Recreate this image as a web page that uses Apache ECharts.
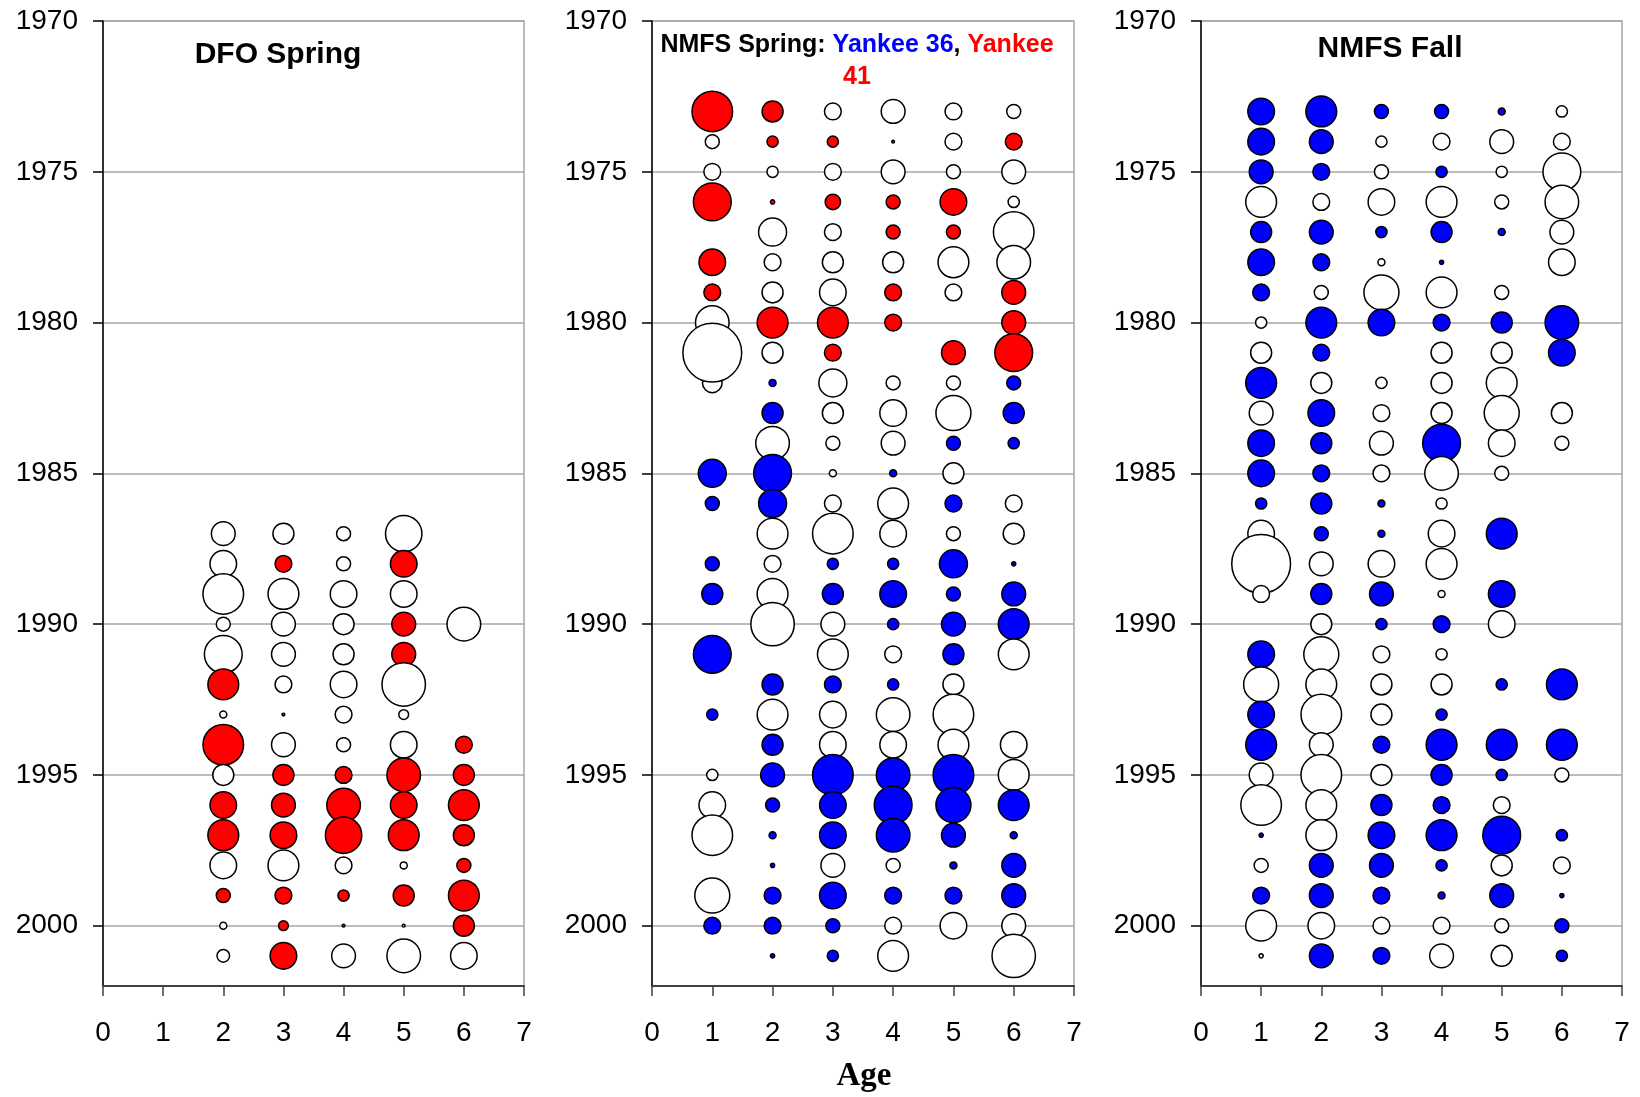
<!DOCTYPE html>
<html><head><meta charset="utf-8">
<script src="https://cdn.jsdelivr.net/npm/echarts@6/dist/echarts.min.js"></script>
<style>html,body{margin:0;padding:0;background:#fff}#c{width:1640px;height:1097px}</style>
</head><body><div id="c"></div><script>
// ---------------- DATA ----------------
// residuals (negative = filled bubble, positive = open bubble)
const ageTicks = [0, 1, 2, 3, 4, 5, 6, 7];
const yearTicks = [1970, 1975, 1980, 1985, 1990, 1995, 2000];

const dfoYears = [1987,1988,1989,1990,1991,1992,1993,1994,1995,1996,1997,1998,1999,2000,2001];
const dfoAge2 = [1.7, 1.9, 2.9, 1.0, 2.7, -2.2, 0.5, -2.9, 1.5, -1.9, -2.2, 1.9, -1.0, 0.5, 0.9];
const dfoAge3 = [1.5, -1.2, 2.2, 1.7, 1.7, 1.2, -0.2, 1.7, -1.5, -1.7, -1.9, 2.2, -1.2, -0.7, -1.9];
const dfoAge4 = [1.0, 1.0, 1.9, 1.5, 1.5, 1.9, 1.2, 1.0, -1.2, -2.4, -2.6, 1.2, -0.8, -0.2, 1.7];
const dfoAge5 = [2.6, -1.9, 1.9, -1.7, -1.7, 3.1, 0.7, 1.9, -2.4, -1.9, -2.2, 0.5, -1.5, 0.2, 2.4];
const dfoAge6 = [null, null, null, 2.4, null, null, null, -1.2, -1.5, -2.2, -1.5, -1.0, -2.2, -1.5, 1.9];

const nmfsYears = [1973,1974,1975,1976,1977,1978,1979,1980,1981,1982,1983,1984,1985,1986,1987,
  1988,1989,1990,1991,1992,1993,1994,1995,1996,1997,1998,1999,2000,2001];

const springAge1 = [-2.9,1.0,1.2,-2.7,null,-1.9,-1.2,2.4,4.2,1.4,null,null,-2.0,-1.0,null,-1.0,-1.5,null,-2.7,null,-0.8,null,0.8,1.9,2.9,null,2.5,-1.2,null];
const springAge2 = [-1.5,-0.8,0.8,-0.3,2.0,1.2,1.5,-2.2,1.5,-0.5,-1.5,2.4,-2.7,-2.0,2.2,1.2,2.2,3.1,null,-1.5,2.2,-1.5,-1.7,-1.0,-0.5,-0.3,-1.2,-1.2,-0.3];
const springAge3 = [1.2,-0.8,1.2,-1.1,1.2,1.5,1.9,-2.2,-1.2,2.0,1.5,1.0,0.5,1.2,2.9,-0.8,-1.5,1.7,2.2,-1.2,1.9,1.9,-2.9,-1.9,-1.9,1.7,-1.9,-1.0,-0.8];
const springAge4 = [1.7,-0.2,1.7,-1.0,-1.0,1.5,-1.2,-1.2,null,1.0,1.9,1.7,-0.5,2.2,1.9,-0.8,-1.9,-0.8,1.2,-0.8,2.4,1.9,-2.4,-2.7,-2.4,1.0,-1.2,1.2,2.2];
const springAge5 = [1.2,1.2,1.0,-1.9,-1.0,2.2,1.2,null,-1.7,1.0,2.5,-1.0,1.5,-1.2,1.0,-2.0,-1.0,-1.7,-1.5,1.5,2.9,2.2,-2.9,-2.5,-1.7,-0.5,-1.2,1.9,null];
const springAge6 = [1.0,-1.2,1.7,0.8,2.9,2.4,-1.7,-1.7,-2.7,-1.0,-1.5,-0.8,null,1.2,1.5,-0.3,-1.7,-2.2,2.2,null,null,1.9,2.2,-2.2,-0.5,-1.7,-1.7,1.7,3.1];

const fallAge1 = [-1.9,-1.9,-1.7,2.2,-1.5,-1.9,-1.2,0.8,1.5,-2.2,1.7,-1.9,-1.9,-0.8,1.9,4.2,1.2,null,-1.9,2.5,-1.9,-2.2,1.7,2.9,-0.3,1.0,-1.2,2.2,0.3];
const fallAge2 = [-2.2,-1.7,-1.2,1.2,-1.7,-1.2,1.0,-2.2,-1.2,1.5,-1.9,-1.5,-1.2,-1.5,-1.0,1.7,-1.5,1.5,2.5,2.2,2.9,1.7,2.9,2.2,2.2,-1.7,-1.7,1.9,-1.7];
const fallAge3 = [-1.0,0.8,1.0,1.9,-0.8,0.5,2.5,-1.9,null,0.8,1.2,1.7,1.2,-0.5,-0.5,1.9,-1.7,-0.8,1.2,1.5,1.5,-1.2,1.5,-1.5,-1.9,-1.7,-1.2,1.2,-1.2];
const fallAge4 = [-1.0,1.2,-0.8,2.2,-1.5,-0.3,2.2,-1.2,1.5,1.5,1.5,-2.7,2.4,0.8,1.9,2.2,0.5,-1.2,0.8,1.5,-0.8,-2.2,-1.5,-1.2,-2.2,-0.8,-0.5,1.2,1.7];
const fallAge5 = [-0.5,1.7,0.8,1.0,-0.5,null,1.0,-1.5,1.5,2.2,2.5,1.9,1.0,null,-2.2,null,-1.9,1.9,null,-0.8,null,-2.2,-0.8,1.2,-2.7,1.5,-1.7,1.0,1.5];
const fallAge6 = [0.8,1.2,2.7,2.4,1.7,1.9,null,-2.4,-1.9,null,1.5,1.0,null,null,null,null,null,null,null,-2.2,null,-2.2,1.0,null,-0.8,1.2,-0.3,-1.0,-0.8];

// ---------------- BUILD ----------------
const FONT = 'Arial, "Liberation Sans", sans-serif';
const SIZE_SCALE = 14;
const RED = '#ff0000', BLUE = '#0000ff';

function buildPoints(years, cols, keep) {
  const pts = [];
  years.forEach((y, i) => {
    cols.forEach(([age, arr]) => {
      const v = arr[i];
      if (v != null && (!keep || keep(y))) pts.push([age, y, v]);
    });
  });
  return pts;
}
const dfoCols = [[2, dfoAge2], [3, dfoAge3], [4, dfoAge4], [5, dfoAge5], [6, dfoAge6]];
const springCols = [[1, springAge1], [2, springAge2], [3, springAge3], [4, springAge4], [5, springAge5], [6, springAge6]];
const fallCols = [[1, fallAge1], [2, fallAge2], [3, fallAge3], [4, fallAge4], [5, fallAge5], [6, fallAge6]];

const grids = [
  { left: 103, top: 21, width: 421, height: 965 },
  { left: 652, top: 21, width: 422, height: 965 },
  { left: 1201, top: 21, width: 421, height: 965 }
];

function xAx(i) {
  return {
    gridIndex: i, type: 'value', min: 0, max: 7, interval: 1,
    axisLine: { show: true, onZero: false, lineStyle: { color: '#404040', width: 2 } },
    axisTick: { show: true, inside: false, length: 10, lineStyle: { color: '#404040', width: 1.5 } },
    axisLabel: { show: true, margin: 33, fontSize: 28, color: '#000', fontFamily: FONT,
      customValues: ageTicks, formatter: v => String(v) },
    splitLine: { show: false }
  };
}
function yAx(i) {
  return {
    gridIndex: i, type: 'value', inverse: true, min: 1970, max: 2002, interval: 5,
    axisLine: { show: true, onZero: false, lineStyle: { color: '#000', width: 1.5 } },
    axisTick: { show: true, inside: false, length: 10, customValues: yearTicks, lineStyle: { color: '#000', width: 1.5 } },
    axisLabel: { show: true, margin: 25, fontSize: 28, color: '#000', fontFamily: FONT,
      customValues: yearTicks, formatter: v => String(v) },
    splitLine: { show: true, lineStyle: { color: '#a6a6a6', width: 1.5 } }
  };
}
function bubbles(i, data, fill) {
  return {
    type: 'scatter', xAxisIndex: i, yAxisIndex: i, data: data,
    symbol: 'circle',
    symbolSize: v => SIZE_SCALE * Math.abs(v[2]),
    itemStyle: {
      color: p => (p.value[2] < 0 ? fill : '#ffffff'),
      borderColor: '#000', borderWidth: 1.5, opacity: 1
    },
    emphasis: { disabled: true },
    silent: true
  };
}

const chart = echarts.init(document.getElementById('c'), null, { renderer: 'canvas' });
chart.setOption({
  animation: false,
  backgroundColor: '#ffffff',
  grid: grids.map(g => Object.assign({ show: true, borderColor: '#a6a6a6', borderWidth: 1.5, backgroundColor: 'transparent' }, g)),
  xAxis: [xAx(0), xAx(1), xAx(2)],
  yAxis: [yAx(0), yAx(1), yAx(2)],
  series: [
    bubbles(0, buildPoints(dfoYears, dfoCols), RED),
    bubbles(1, buildPoints(nmfsYears, springCols, y => y >= 1982), BLUE),
    bubbles(1, buildPoints(nmfsYears, springCols, y => y <= 1981), RED),
    bubbles(2, buildPoints(nmfsYears, fallCols), BLUE)
  ],
  graphic: [
    { type: 'text', x: 278, y: 55, z: 100,
      style: { text: 'DFO Spring', font: 'bold 30px ' + FONT, fill: '#000', textAlign: 'center', textVerticalAlign: 'middle' } },
    { type: 'text', x: 1390, y: 49, z: 100,
      style: { text: 'NMFS Fall', font: 'bold 30px ' + FONT, fill: '#000', textAlign: 'center', textVerticalAlign: 'middle' } },
    { type: 'text', x: 857, y: 61, z: 100,
      style: {
        text: '{k|NMFS Spring: }{b|Yankee 36}{k|, }{r|Yankee}\n{r|41}',
        textAlign: 'center', textVerticalAlign: 'middle', align: 'center',
        font: 'bold 25px ' + FONT, lineHeight: 32,
        rich: {
          k: { fill: '#000', font: 'bold 25px ' + FONT, lineHeight: 32 },
          b: { fill: BLUE, font: 'bold 25px ' + FONT, lineHeight: 32 },
          r: { fill: RED, font: 'bold 25px ' + FONT, lineHeight: 32 }
        }
      } },
    { type: 'text', x: 864, y: 1076, z: 100,
      style: { text: 'Age', font: 'bold 33px "Times New Roman", "Liberation Serif", serif', fill: '#000', textAlign: 'center', textVerticalAlign: 'middle' } }
  ]
});
</script></body></html>
